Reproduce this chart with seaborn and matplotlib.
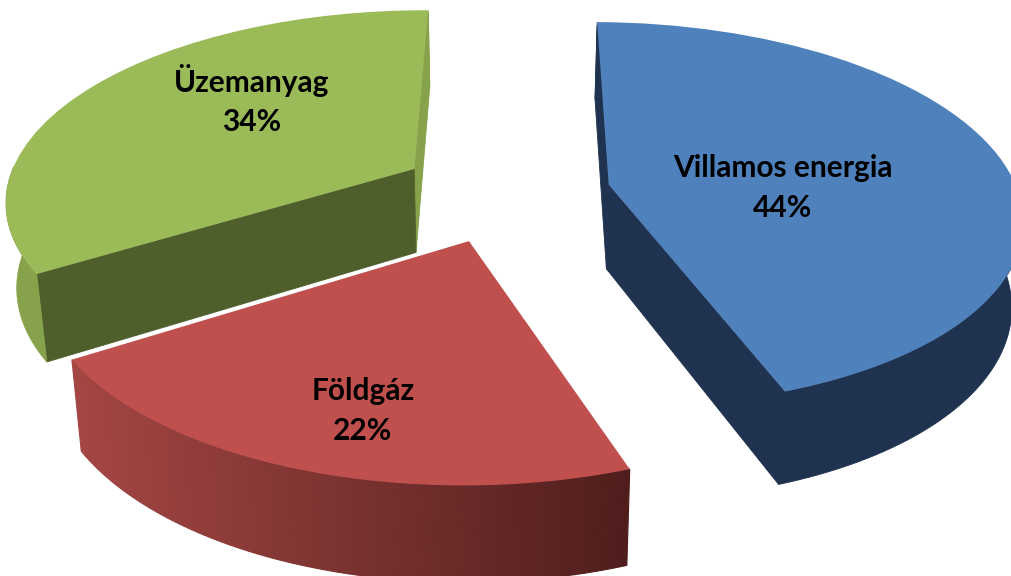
import numpy as np
import matplotlib
matplotlib.use('Agg')
import matplotlib.pyplot as plt
from matplotlib.colors import to_rgb
from matplotlib.transforms import Transform
import seaborn as sns

# Chart data
categories = ['Villamos energia', 'Földgáz', 'Üzemanyag']
shares = [44.49, 21.5, 34.01]
top_colors = ['#4f81bd', '#c0504d', '#9bbb59']
wall_colors = ['#1f3350', '#4f1e1c', '#86a34b']
red_wall_left = '#a44644'
cut_colors = ['#1f3350', None, '#4e5f2c']
label_positions = [(783, 188), (363, 411), (252, 100)]

# Perspective settings, fitted to the picture
VANISH_X = 498
TILT = 0.16
SCALE_X = 425
DRAW_ORDER = [2, 0, 1]


def project(x, y, t=0.0):
    """Ground plane coords to pixels, t=0 is the top face and t=1 the bottom face."""
    t = np.asarray(t, dtype=float)
    w = 1 + TILT * np.asarray(y, dtype=float)
    u = VANISH_X + SCALE_X * (1 - 0.022 * t) * np.asarray(x, dtype=float) / w
    v = (-1040 + 32 * t) + (1280 + 54.5 * t) / w
    return u, v


class PerspectiveTransform(Transform):
    input_dims = 2
    output_dims = 2
    is_separable = False
    has_inverse = False

    def transform_non_affine(self, values):
        u, v = project(values[:, 0], values[:, 1])
        return np.column_stack([u, v])


sns.set_theme(style='white')
plt.rcParams['font.family'] = ['Lato', 'DejaVu Sans']

fig, ax = plt.subplots(figsize=(10.12, 5.76), dpi=100)
fig.subplots_adjust(left=0, right=1, bottom=0, top=1)

palette = sns.color_palette(top_colors)
wedges, _ = ax.pie(shares, colors=palette, startangle=89.5, counterclock=False,
                   explode=[0.258, 0.26, 0.26], center=(0.018, 0.24), radius=1.0)

ax.set_aspect('auto')
ax.set_xlim(0, 1012)
ax.set_ylim(576, 0)
ax.axis('off')

persp = PerspectiveTransform()


def draw_slice(i):
    wedge = wedges[i]
    base = DRAW_ORDER.index(i) * 3
    cx, cy = wedge.center
    r = wedge.r
    th = np.radians(np.linspace(wedge.theta1, wedge.theta2, 121))
    xs = cx + r * np.cos(th)
    ys = cy + r * np.sin(th)

    # the wall starts a bit lower on the back half so it can't peek out behind the top face
    t_top = np.where(np.sin(th) > 0.02, 0.05, 0.0)
    u0, v0 = project(xs, ys, t_top)
    u1, v1 = project(xs, ys, 1)

    # the two cut faces of the slice
    if cut_colors[i] is not None:
        au0, av0 = project(cx, cy, 0)
        au1, av1 = project(cx, cy, 1)
        for idx in [0, -1]:
            col = cut_colors[i]
            if categories[i] == 'Üzemanyag' and idx == 0:
                col = wall_colors[i]
            eu0, ev0 = project(xs[idx], ys[idx], 0)
            ax.fill([au0, eu0, u1[idx], au1], [av0, ev0, v1[idx], av1],
                    color=col, lw=0.6, zorder=2 + base)

    # outer wall, narrow quads for the red one so it can carry the gradient
    if categories[i] == 'Földgáz':
        left = np.array(to_rgb(red_wall_left))
        right = np.array(to_rgb(wall_colors[i]))
        for k in range(len(th) - 1):
            # colour follows the screen position from left corner to right corner
            f = (0.5 * (u0[k] + u0[k + 1]) - u0.min()) / (u0.max() - u0.min())
            ax.fill([u0[k], u0[k + 1], u1[k + 1], u1[k]],
                    [v0[k], v0[k + 1], v1[k + 1], v1[k]],
                    color=tuple((1 - f) * left + f * right), lw=0.8, zorder=3 + base)
    else:
        ax.fill(np.r_[u0, u1[::-1]], np.r_[v0, v1[::-1]],
                color=wall_colors[i], lw=0.6, zorder=3 + base)

    # top face, the wedge from the pie itself
    wedge.set_transform(persp + ax.transData)
    wedge.set_zorder(4 + base)
    wedge.set_edgecolor('none')


for i in DRAW_ORDER:
    draw_slice(i)

for name, share, (lx, ly) in zip(categories, shares, label_positions):
    ax.text(lx, ly, f'{name}\n{share:.0f}%', ha='center', va='center', fontsize=21.5,
            fontweight='bold', color='black', linespacing=1.5, zorder=20)

fig.savefig('out.png', dpi=100, facecolor='white')
